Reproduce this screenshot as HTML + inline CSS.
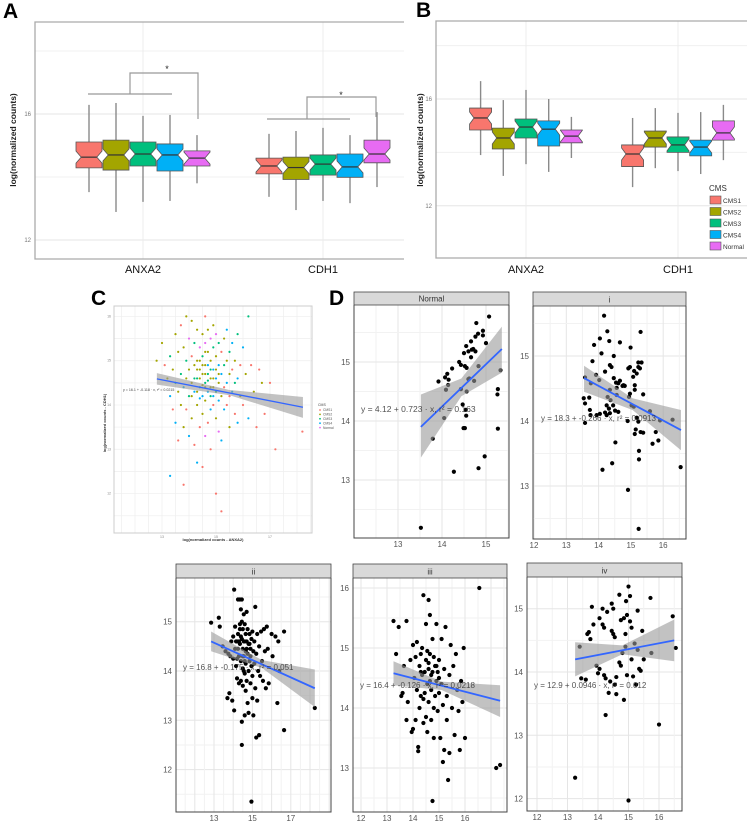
<!DOCTYPE html>
<html><head><meta charset="utf-8">
<style>
html,body{margin:0;padding:0;background:#fff;}
svg{display:block;font-family:"Liberation Sans",sans-serif;}
</style></head>
<body>
<svg id="fig" width="750" height="824" viewBox="0 0 750 824" xmlns="http://www.w3.org/2000/svg"></svg>
<script>
// ---------- Data: panel A (boxplots) ----------
const genes = ["ANXA2", "CDH1"];
const groups = ["CMS1", "CMS2", "CMS3", "CMS4", "Normal"];
const aQ3  = [15.11,15.17,15.11,15.05,14.83, 14.60,14.63,14.70,14.73,15.17];
const aQ1  = [14.29,14.22,14.35,14.19,14.35, 14.10,13.92,14.06,13.99,14.45];
const aMed = [14.63,14.70,14.73,14.70,14.60, 14.35,14.30,14.41,14.32,14.73];
const aHi  = [16.29,16.35,15.94,15.97,15.33, 15.37,15.46,15.56,15.33,16.06];
const aLo  = [13.52,12.89,13.21,13.24,13.80, 13.37,12.95,13.24,13.17,13.68];
const aTicks = [12, 16];
// ---------- Data: panel B ----------
const bQ3  = [15.66,14.91,15.25,15.18,14.84, 14.28,14.80,14.58,14.46,15.18];
const bQ1  = [14.84,14.13,14.54,14.24,14.36, 13.47,14.20,14.00,13.87,14.46];
const bMed = [15.29,14.54,14.95,14.87,14.61, 13.94,14.54,14.28,14.20,14.73];
const bHi  = [16.67,15.96,16.34,16.00,15.33, 15.29,15.66,15.48,15.51,15.78];
const bLo  = [13.90,13.12,13.56,13.27,13.79, 12.70,13.41,13.30,13.19,13.71];
const bTicks = [12, 16];
const groupColors = ["#F8766D","#A3A500","#00BF7D","#00B0F6","#E76BF3"];
// ---------- Data: panel C ----------
const cPoints = [[13.0,15.4,1],[13.1,14.9,0],[13.2,14.6,1],[13.3,15.1,2],[13.3,14.2,3],[13.4,14.8,1],[13.4,13.9,0],[13.5,15.6,1],[13.5,14.5,2],[13.5,13.6,3],[13.6,15.2,1],[13.6,14.3,1],[13.6,13.2,0],[13.7,15.8,0],[13.7,14.7,2],[13.7,14.0,1],[13.8,15.3,1],[13.8,14.4,3],[13.8,13.5,1],[13.9,16.0,1],[13.9,15.0,2],[13.9,14.6,1],[13.9,13.9,0],[14.0,15.5,4],[14.0,14.8,1],[14.0,14.2,2],[14.0,13.3,3],[14.1,15.9,1],[14.1,15.1,0],[14.1,14.5,1],[14.1,13.7,1],[14.2,15.4,2],[14.2,14.9,1],[14.2,14.3,3],[14.2,13.1,0],[14.3,15.7,1],[14.3,15.0,1],[14.3,14.6,2],[14.3,14.0,1],[14.3,12.7,3],[14.4,15.3,4],[14.4,14.8,1],[14.4,14.4,2],[14.4,13.5,0],[14.5,15.6,1],[14.5,15.1,2],[14.5,14.7,1],[14.5,14.2,3],[14.5,13.8,1],[14.5,12.6,0],[14.6,16.0,0],[14.6,15.4,4],[14.6,14.9,1],[14.6,14.5,2],[14.6,14.1,1],[14.6,13.3,4],[14.7,15.7,1],[14.7,15.2,1],[14.7,14.7,2],[14.7,14.3,3],[14.7,13.6,0],[14.8,15.5,4],[14.8,15.0,1],[14.8,14.6,1],[14.8,14.2,2],[14.8,13.9,3],[14.8,13.0,0],[14.9,15.8,1],[14.9,15.3,2],[14.9,14.8,3],[14.9,14.4,1],[14.9,14.0,0],[15.0,15.6,4],[15.0,15.1,1],[15.0,14.6,3],[15.0,14.3,2],[15.0,13.7,1],[15.0,12.0,0],[15.1,15.4,2],[15.1,14.9,3],[15.1,14.5,1],[15.1,14.1,3],[15.1,13.4,4],[15.2,15.2,0],[15.2,14.7,3],[15.2,14.2,1],[15.2,13.2,3],[15.2,11.6,0],[15.3,15.5,1],[15.3,14.9,2],[15.3,14.4,0],[15.3,13.9,3],[15.4,15.7,3],[15.4,15.0,1],[15.4,14.5,3],[15.4,14.0,0],[15.5,15.2,2],[15.5,14.7,1],[15.5,14.2,0],[15.5,13.5,1],[15.6,15.4,3],[15.6,14.8,0],[15.6,14.3,3],[15.7,15.0,1],[15.7,14.5,2],[15.7,13.8,0],[15.8,15.6,2],[15.8,14.6,3],[15.8,13.6,3],[15.9,14.9,0],[15.9,14.2,1],[16.0,15.3,3],[16.0,14.0,0],[16.1,14.7,1],[16.2,13.7,3],[16.3,14.9,0],[16.4,14.3,1],[16.5,13.5,0],[16.6,14.8,0],[16.7,14.5,1],[16.8,13.8,0],[17.0,14.5,0],[17.2,13.0,0],[18.2,13.4,0],[16.2,16.0,2],[12.8,15.0,1],[13.3,12.4,3],[13.8,12.2,0],[14.4,14.6,1],[14.6,14.4,1],[14.8,14.8,2],[14.5,14.9,1],[14.7,14.9,3],[14.3,14.3,1],[14.9,14.2,3],[14.6,14.7,1],[14.2,14.6,2],[15.0,14.8,1],[14.4,15.0,1],[14.8,14.4,1],[14.5,14.45,1],[14.7,14.55,2],[14.3,14.8,1],[14.9,14.6,1],[14.1,14.2,1],[15.1,14.7,1],[14.6,15.2,1],[14.4,14.15,3]];
const cLine = [12.81,14.59,18.22,13.95];
const cBandX = [12.81,15.5,18.22];
const cBandLo = [14.46,14.22,13.71];
const cBandHi = [14.72,14.34,14.18];
const cXTicks = [13,15,17];
const cYTicks = [12,13,14,15,16];
// ---------- Data: panel D facets ----------
const normalPoints = [[13.52,12.19],[13.79,13.70],[13.92,14.67],[14.07,14.74],[14.12,14.80],[14.23,14.89],[14.15,14.70],[14.14,14.61],[14.09,14.53],[14.05,14.05],[14.27,13.14],[14.39,15.0],[14.43,14.95],[14.5,15.15],[14.52,14.93],[14.55,15.27],[14.56,14.9],[14.6,15.18],[14.66,15.35],[14.68,15.21],[14.71,15.22],[14.66,15.08],[14.76,15.18],[14.76,15.43],[14.78,15.66],[14.82,15.48],[14.93,15.53],[14.93,15.45],[15.0,15.32],[15.07,15.77],[14.47,14.28],[14.54,14.19],[14.55,14.09],[14.49,13.88],[14.52,13.88],[14.56,14.50],[14.6,14.71],[14.43,14.54],[14.62,14.72],[14.73,14.68],[14.83,13.2],[14.97,13.4],[15.27,14.54],[15.26,14.45],[15.27,13.87],[15.33,14.86],[14.83,14.93]];
const iPoints = [[14.17,15.62],[14.27,15.38],[14.04,15.27],[13.86,15.17],[14.33,15.23],[14.09,15.04],[14.66,15.21],[14.47,15.0],[14.99,15.13],[15.30,15.37],[13.81,14.92],[14.35,14.86],[14.40,14.83],[14.20,14.76],[13.92,14.71],[13.58,14.67],[13.76,14.58],[14.02,14.63],[14.47,14.66],[14.54,14.59],[14.61,14.58],[14.66,14.62],[14.77,14.55],[14.81,14.54],[14.56,14.51],[14.35,14.48],[14.28,14.37],[14.37,14.32],[14.25,14.24],[14.45,14.24],[14.32,14.19],[14.20,14.13],[14.35,14.12],[14.51,14.16],[14.04,14.11],[13.73,14.17],[13.75,14.09],[13.54,14.35],[13.58,14.27],[13.71,14.36],[13.58,13.97],[13.94,14.09],[14.92,14.81],[14.97,14.83],[15.1,14.77],[15.18,14.73],[15.23,14.83],[15.28,14.81],[15.33,14.90],[15.23,14.90],[15.07,14.68],[15.12,14.55],[15.12,14.48],[14.97,14.42],[14.94,14.37],[15.02,14.24],[15.09,14.22],[15.18,14.05],[15.23,13.99],[14.90,14.0],[15.15,13.87],[15.12,13.80],[15.30,13.83],[15.38,13.82],[15.38,14.41],[15.59,14.15],[15.90,14.01],[15.67,13.65],[15.85,13.70],[15.77,13.83],[16.29,14.02],[16.54,13.29],[15.25,13.54],[15.25,13.41],[14.91,12.94],[15.24,12.34],[14.12,13.25],[14.42,13.35],[14.52,13.67],[14.74,14.54],[14.25,14.09],[14.56,14.4],[14.61,14.14]];
const iiPoints = [[12.85,14.98],[13.25,15.08],[13.3,14.9],[13.45,14.5],[13.6,14.4],[13.7,13.45],[13.8,13.55],[13.85,14.3],[13.9,14.6],[13.95,13.4],[14.0,14.7],[14.05,15.65],[14.05,13.2],[14.1,14.9],[14.1,14.45],[14.15,14.1],[14.2,14.6],[14.2,13.85],[14.25,15.45],[14.25,14.75],[14.3,14.3],[14.3,13.75],[14.35,15.45],[14.35,14.95],[14.35,14.55],[14.4,15.25],[14.4,14.2],[14.4,13.8],[14.45,15.45],[14.45,15.0],[14.45,14.65],[14.45,12.5],[14.45,12.97],[14.5,14.85],[14.5,14.45],[14.5,14.05],[14.5,13.7],[14.55,15.15],[14.55,14.6],[14.55,14.3],[14.6,14.95],[14.6,13.95],[14.6,13.1],[14.65,14.75],[14.65,14.4],[14.65,14.15],[14.7,15.2],[14.7,14.6],[14.7,13.8],[14.75,14.85],[14.75,14.35],[14.75,13.35],[14.8,14.55],[14.8,14.0],[14.8,13.15],[14.85,14.75],[14.85,14.2],[14.9,14.45],[14.9,13.75],[14.95,14.65],[14.95,14.1],[14.95,11.35],[15.0,14.8],[15.0,13.9],[15.0,13.45],[15.05,14.4],[15.05,13.1],[15.1,14.6],[15.1,14.15],[15.15,15.3],[15.15,13.65],[15.2,14.35],[15.2,12.65],[15.25,14.75],[15.25,13.4],[15.3,14.0],[15.35,14.5],[15.35,12.7],[15.4,13.9],[15.45,14.8],[15.5,14.2],[15.55,13.8],[15.6,14.85],[15.65,14.4],[15.7,13.65],[15.75,14.9],[15.8,14.45],[15.85,13.75],[16.0,14.75],[16.05,14.3],[16.2,14.7],[16.3,13.35],[16.35,14.6],[16.4,14.0],[16.65,14.8],[16.65,12.8],[18.25,13.25],[14.15,14.6],[14.3,14.6],[14.6,14.6],[14.2,14.25],[14.85,14.55],[14.35,14.85],[14.55,14.0],[14.65,13.6],[14.0,14.25],[13.75,14.35],[14.4,14.7],[14.5,14.3],[14.6,14.2],[14.7,14.45],[14.25,14.45],[14.9,14.3]];
const iiiPoints = [[13.25,15.45],[13.35,14.9],[13.45,15.35],[13.55,14.2],[13.6,14.25],[13.65,14.7],[13.75,15.45],[13.75,13.8],[13.8,14.1],[13.9,14.8],[13.95,13.6],[14.0,15.05],[14.0,13.65],[14.05,14.5],[14.1,14.85],[14.1,13.8],[14.15,15.1],[14.15,14.3],[14.2,13.35],[14.2,13.28],[14.25,14.7],[14.25,14.0],[14.3,14.9],[14.3,14.2],[14.35,15.0],[14.35,14.55],[14.4,15.88],[14.4,13.75],[14.45,14.6],[14.45,14.25],[14.5,15.4],[14.5,14.8],[14.5,13.85],[14.55,14.4],[14.55,13.6],[14.6,15.8],[14.6,14.65],[14.6,14.1],[14.65,15.55],[14.65,14.9],[14.7,14.3],[14.7,13.8],[14.75,15.15],[14.75,14.6],[14.75,12.45],[14.8,14.85],[14.8,14.0],[14.8,13.5],[14.85,14.7],[14.85,14.2],[14.9,15.4],[14.9,14.45],[14.95,14.6],[14.95,13.95],[15.0,14.8],[15.0,14.25],[15.05,13.5],[15.1,15.15],[15.1,14.4],[15.15,14.05],[15.15,13.1],[15.2,14.65],[15.2,13.3],[15.25,15.35],[15.3,14.2],[15.3,13.8],[15.35,12.8],[15.4,14.55],[15.4,13.25],[15.45,15.05],[15.5,14.0],[15.55,14.7],[15.6,13.55],[15.65,14.9],[15.7,14.3],[15.75,13.95],[15.8,13.3],[15.85,14.45],[15.9,14.1],[15.95,15.0],[16.0,13.5],[16.55,16.0],[14.55,14.95],[14.65,14.45],[14.3,14.6],[14.9,14.7],[14.6,14.75],[14.7,14.55],[14.4,14.15],[15.0,14.5],[17.2,13.0],[17.35,13.05]];
const ivPoints = [[13.25,12.33],[13.4,14.4],[13.45,13.9],[13.6,13.88],[13.65,14.6],[13.7,14.63],[13.75,14.52],[13.8,15.03],[13.85,14.75],[13.95,14.1],[14.0,13.98],[14.05,14.85],[14.05,14.05],[14.15,15.0],[14.15,14.75],[14.2,14.7],[14.2,13.95],[14.25,13.32],[14.25,13.9],[14.3,14.95],[14.35,13.67],[14.4,13.85],[14.45,15.08],[14.45,14.65],[14.5,14.6],[14.5,15.0],[14.55,14.55],[14.55,13.8],[14.6,13.92],[14.6,13.65],[14.7,15.22],[14.75,14.82],[14.75,14.1],[14.8,14.3],[14.85,14.85],[14.85,13.56],[14.9,14.4],[14.9,14.6],[14.92,15.12],[14.95,14.9],[15.0,15.35],[15.0,11.97],[15.05,15.2],[15.05,14.8],[15.1,14.7],[15.1,14.2],[15.15,13.93],[15.2,14.45],[15.3,14.97],[15.3,14.35],[15.35,14.05],[15.4,14.02],[15.45,14.65],[15.5,14.2],[15.72,15.17],[15.75,14.3],[16.0,13.17],[16.45,14.88],[16.55,14.38],[15.25,13.8],[14.95,13.95],[14.7,14.15]];
const normalLine = [13.52,13.90,15.36,15.22];
const normalBandX = [13.52,14.44,15.36], normalBandLo = [13.38,14.42,14.82], normalBandHi = [14.45,14.72,15.60];
const iLine = [13.55,14.66,16.55,13.86];
const iBandX = [13.55,15.05,16.55], iBandLo = [14.45,14.17,13.55], iBandHi = [14.85,14.35,14.17];
const iiLine = [12.85,14.60,18.25,13.65];
const iiBandX = [12.85,15.5,18.25], iiBandLo = [14.40,14.06,13.27], iiBandHi = [14.80,14.22,14.03];
const iiiLine = [13.25,14.58,17.35,14.12];
const iiiBandX = [13.25,15.1,17.35], iiiBandLo = [14.38,14.30,13.85], iiiBandHi = [14.78,14.44,14.38];
const ivLine = [13.25,14.20,16.50,14.50];
const ivBandX = [13.25,14.8,16.5], ivBandLo = [13.93,14.28,14.17], ivBandHi = [14.47,14.42,14.83];

// ---------- drawing helpers ----------
const NS = "http://www.w3.org/2000/svg";
const svg = document.getElementById("fig");
function mk(tag, attrs, parent) {
  const e = document.createElementNS(NS, tag);
  for (const k in attrs) e.setAttribute(k, attrs[k]);
  (parent || svg).appendChild(e);
  return e;
}
function txt(str, attrs, parent) {
  const t = mk("text", attrs, parent);
  t.textContent = str;
  return t;
}
function panelLabel(ch, x, y) {
  const t = txt(ch, {x: x, y: y, "font-size": 21, "font-weight": "bold", fill: "#000"});
  
  
}

// ---------- Box plot panels ----------
function boxPanel(id, cfg, q3, q1, med, hi, lo, ticks) {
  const g = mk("g", {});
  
  
  const ys = v => cfg.y16 - (v - 16) * cfg.ppu;
  // gridlines
  for (let v = 10; v <= 20; v += 2) {
    const y = ys(v);
    if (y < cfg.T || y > cfg.B) continue;
    const gl = mk("line", {x1: cfg.L, x2: cfg.R, y1: y, y2: y, stroke: ticks.includes(v) ? "#e6e6e6" : "#f0f0f0", "stroke-width": 1}, g);
    
    
  }
  cfg.cats.forEach(cx => {
    const gl = mk("line", {x1: cx, x2: cx, y1: cfg.T, y2: cfg.B, stroke: "#ececec", "stroke-width": 1}, g);
    
    
  });
  const fr = mk("path", {d: `M${cfg.R},${cfg.T} H${cfg.L} V${cfg.B} H${cfg.R}`, fill: "none", stroke: "#aaa", "stroke-width": 1.3}, g);
  
  
  ticks.forEach(v => {
    const t = txt(String(v), {x: cfg.L - 4, y: ys(v) + 2, "font-size": 6, fill: "#777", "text-anchor": "end"}, g);
    
    
  });
  const yt = txt("log(normalized counts)", {x: 0, y: 0, "font-size": 8.5, "font-weight": "bold", fill: "#222", "text-anchor": "middle", transform: `translate(${cfg.ytX},${cfg.ytY}) rotate(-90)`}, g);
  
  
  genes.forEach((gn, gi) => {
    const t = txt(gn, {x: cfg.cats[gi], y: 273, "font-size": 11, fill: "#111", "text-anchor": "middle"}, g);
    
    
  });
  for (let i = 0; i < 10; i++) {
    const gi = Math.floor(i / 5), k = i % 5;
    const cx = cfg.cats[gi] + (k - 2) * cfg.step;
    const w = cfg.bw / 2;
    const wl = mk("line", {x1: cx, x2: cx, y1: ys(hi[i]), y2: ys(lo[i]), stroke: "#8a8a8a", "stroke-width": 1.4}, g);
    
    
    const yT = ys(q3[i]), yB = ys(q1[i]), yM = ys(med[i]);
    const nh = Math.min(6, (yB - yT) / 2 - 0.5), ins = cfg.bw * 0.2;
    const d = `M${cx-w},${yT} H${cx+w} V${yM-nh} L${cx+w-ins},${yM} L${cx+w},${yM+nh} V${yB} H${cx-w} V${yM+nh} L${cx-w+ins},${yM} L${cx-w},${yM-nh} Z`;
    const bx = mk("path", {d: d, fill: groupColors[k], stroke: "#555", "stroke-width": 0.8}, g);
    
    
    const ml = mk("line", {x1: cx - w + ins, x2: cx + w - ins, y1: yM, y2: yM, stroke: "#333", "stroke-width": 1.2}, g);
    
    
  }
  return g;
}
boxPanel("a", {L: 35, R: 404, T: 22, B: 259, y16: 114, ppu: 31.5, cats: [143, 323], step: 27, bw: 26, ytX: 16, ytY: 140}, aQ3, aQ1, aMed, aHi, aLo, aTicks);
boxPanel("b", {L: 436, R: 747, T: 21, B: 258, y16: 99, ppu: 26.7, cats: [526, 678], step: 22.7, bw: 22, ytX: 423, ytY: 140}, bQ3, bQ1, bMed, bHi, bLo, bTicks);

// significance brackets (panel A)
const brk = mk("g", {fill: "none", stroke: "#999", "stroke-width": 1.2});


mk("path", {d: "M88,94 H172 M130,94 V73 H198 V119"}, brk);
mk("path", {d: "M267,119 H350 M307,119 V97 H376 V117"}, brk);
const s1 = txt("*", {x: 167, y: 72, "font-size": 9, fill: "#222", "text-anchor": "middle"});


const s2 = txt("*", {x: 341, y: 98, "font-size": 9, fill: "#222", "text-anchor": "middle"});



// legend panel B
const lg = mk("g", {});


const lgt = txt("CMS", {x: 709, y: 191, "font-size": 8, fill: "#333"}, lg);


groups.forEach((gname, k) => {
  const y = 200 + k * 11.5;
  const r = mk("rect", {x: 710, y: y - 4, width: 11, height: 8, fill: groupColors[k], stroke: "#555", "stroke-width": 0.6}, lg);
  
  
  const t = txt(gname, {x: 723, y: y + 3, "font-size": 6.5, fill: "#333"}, lg);
  
  
});

panelLabel("A", 3, 18);
panelLabel("B", 416, 17);
panelLabel("C", 91, 305);
panelLabel("D", 329, 305);

// ---------- Panel C scatter ----------
(function () {
  const L = 114, R = 312, T = 306, B = 533;
  const xs = v => 162 + (v - 13) * 27, ys = v => 405 - (v - 14) * 44.3;
  const g = mk("g", {});
  
  
  for (let v = 11; v <= 19; v += 0.5) {
    const x = xs(v); if (x < L || x > R) continue;
    const gl = mk("line", {x1: x, x2: x, y1: T, y2: B, stroke: "#f0f0f0", "stroke-width": 0.8}, g);
    
    
  }
  for (let v = 11; v <= 16.5; v += 0.5) {
    const y = ys(v); if (y < T || y > B) continue;
    const gl = mk("line", {x1: L, x2: R, y1: y, y2: y, stroke: "#f0f0f0", "stroke-width": 0.8}, g);
    
    
  }
  const fr = mk("rect", {x: L, y: T, width: R - L, height: B - T, fill: "none", stroke: "#ccc", "stroke-width": 1}, g);
  
  
  cXTicks.forEach(v => {
    const t = txt(String(v), {x: xs(v), y: B + 5, "font-size": 3.5, fill: "#888", "text-anchor": "middle"}, g);
    
    
  });
  cYTicks.forEach(v => {
    const t = txt(String(v), {x: L - 3, y: ys(v) + 1, "font-size": 3.5, fill: "#888", "text-anchor": "end"}, g);
    
    
  });
  const xt = txt("log(normalized counts - ANXA2)", {x: 213, y: 541, "font-size": 4, "font-weight": "bold", fill: "#333", "text-anchor": "middle"}, g);
  
  
  const yt = txt("log(normalized counts - CDH1)", {x: 0, y: 0, "font-size": 4, "font-weight": "bold", fill: "#333", "text-anchor": "middle", transform: "translate(106,423) rotate(-90)"}, g);
  
  
  cPoints.forEach(p => {
    const c = mk("circle", {cx: xs(p[0]), cy: ys(p[1]), r: 1.1, fill: groupColors[p[2]]}, g);
    
    
  });
  let d = "M" + cBandX.map((x, i) => xs(x) + "," + ys(cBandHi[i])).join(" L");
  d += " L" + cBandX.slice().reverse().map((x, i) => xs(x) + "," + ys(cBandLo[cBandX.length - 1 - i])).join(" L") + " Z";
  const band = mk("path", {d: d, fill: "#999", "fill-opacity": 0.6}, g);
  
  
  const ln = mk("line", {x1: xs(cLine[0]), y1: ys(cLine[1]), x2: xs(cLine[2]), y2: ys(cLine[3]), stroke: "#3366FF", "stroke-width": 1.3}, g);
  
  
  const eq = txt("y = 16.1 + -0.118 · x, r² = 0.0215", {x: 123, y: 391, "font-size": 3.6, fill: "#444"}, g);
  
  
  const lt = txt("CMS", {x: 318, y: 406, "font-size": 3.5, fill: "#444"}, g);
  
  
  groups.forEach((gname, k) => {
    const y = 410 + k * 4.4;
    const dot = mk("circle", {cx: 320, cy: y, r: 0.9, fill: groupColors[k]}, g);
    
    
    const t = txt(gname, {x: 323, y: y + 1.2, "font-size": 3.3, fill: "#555"}, g);
    
    
  });
})();

// ---------- Panel D facets ----------
function facet(f) {
  const g = mk("g", {});
  
  
  const xs = v => f.xpx + (v - f.x0) * f.xppu, ys = v => f.ypx - (v - f.y0) * f.yppu;
  const clipId = "clip-" + f.id;
  const cp = mk("clipPath", {id: clipId}, g);
  mk("rect", {x: f.L, y: f.H, width: f.R - f.L, height: f.B - f.H}, cp);
  for (let v = 10; v <= 20; v += 0.5) {
    const x = xs(v);
    if (x > f.L && x < f.R) {
      const gl = mk("line", {x1: x, x2: x, y1: f.H, y2: f.B, stroke: v % 1 === 0 ? "#e5e5e5" : "#f2f2f2", "stroke-width": 1}, g);
      
      
    }
    const y = ys(v);
    if (y > f.H && y < f.B) {
      const gl = mk("line", {x1: f.L, x2: f.R, y1: y, y2: y, stroke: v % 1 === 0 ? "#e5e5e5" : "#f2f2f2", "stroke-width": 1}, g);
      
      
    }
  }
  const inner = mk("g", {"clip-path": "url(#" + clipId + ")"}, g);
  f.pts.forEach(p => {
    const c = mk("circle", {cx: xs(p[0]), cy: ys(p[1]), r: 2.1, fill: "#000"}, inner);
    
    
  });
  let d = "M" + f.bx.map((x, i) => xs(x) + "," + ys(f.bhi[i])).join(" L");
  d += " L" + f.bx.slice().reverse().map((x, i) => xs(x) + "," + ys(f.blo[f.bx.length - 1 - i])).join(" L") + " Z";
  const band = mk("path", {d: d, fill: "#999", "fill-opacity": 0.6}, inner);
  
  
  const ln = mk("line", {x1: xs(f.line[0]), y1: ys(f.line[1]), x2: xs(f.line[2]), y2: ys(f.line[3]), stroke: "#3366FF", "stroke-width": 1.8}, inner);
  
  
  const eq = txt(f.eq, {x: f.ex, y: f.ey, "font-size": f.efs, fill: "#333", "fill-opacity": 0.85}, g);
  
  
  const hd = mk("rect", {x: f.L, y: f.T, width: f.R - f.L, height: f.H - f.T, fill: "#d9d9d9", stroke: "#444", "stroke-width": 0.8}, g);
  
  
  const ht = txt(f.title, {x: (f.L + f.R) / 2, y: f.H - 3.5, "font-size": 8, fill: "#333", "text-anchor": "middle"}, g);
  
  
  const fr = mk("path", {d: `M${f.L},${f.H} V${f.B} H${f.R} V${f.H}`, fill: "none", stroke: "#444", "stroke-width": 1}, g);
  
  
  f.xt.forEach(v => {
    const t = txt(String(v), {x: xs(v), y: f.B + 9, "font-size": 8, fill: "#555", "text-anchor": "middle"}, g);
    
    
  });
  f.yt.forEach(v => {
    const t = txt(String(v), {x: f.L - 4, y: ys(v) + 3, "font-size": 8, fill: "#555", "text-anchor": "end"}, g);
    
    
  });
}
facet({id: "normal", title: "Normal", L: 354, R: 509, T: 292, H: 305, B: 538, x0: 13, xpx: 398, xppu: 44, y0: 14, ypx: 421, yppu: 59, xt: [13,14,15], yt: [13,14,15], pts: normalPoints, line: normalLine, bx: normalBandX, blo: normalBandLo, bhi: normalBandHi, eq: "y = 4.12 + 0.723 · x, r² = 0.163", ex: 361, ey: 412, efs: 8.5});
facet({id: "i", title: "i", L: 533, R: 686, T: 292, H: 306, B: 539, x0: 12, xpx: 534, xppu: 32.3, y0: 14, ypx: 421, yppu: 65, xt: [12,13,14,15,16], yt: [13,14,15], pts: iPoints, line: iLine, bx: iBandX, blo: iBandLo, bhi: iBandHi, eq: "y = 18.3 + -0.266 · x, r² = 0.0913", ex: 541, ey: 421, efs: 8});
facet({id: "ii", title: "ii", L: 176, R: 331, T: 564, H: 578, B: 812, x0: 13, xpx: 214, xppu: 19.2, y0: 14, ypx: 671, yppu: 49.3, xt: [13,15,17], yt: [12,13,14,15], pts: iiPoints, line: iiLine, bx: iiBandX, blo: iiBandLo, bhi: iiBandHi, eq: "y = 16.8 + -0.175 · x, r² = 0.051", ex: 183, ey: 670, efs: 8});
facet({id: "iii", title: "iii", L: 353, R: 507, T: 564, H: 578, B: 812, x0: 12, xpx: 361, xppu: 26, y0: 14, ypx: 708, yppu: 60, xt: [12,13,14,15,16], yt: [13,14,15,16], pts: iiiPoints, line: iiiLine, bx: iiiBandX, blo: iiiBandLo, bhi: iiiBandHi, eq: "y = 16.4 + -0.126 · x, r² = 0.0218", ex: 360, ey: 688, efs: 8});
facet({id: "iv", title: "iv", L: 527, R: 682, T: 563, H: 577, B: 811, x0: 12, xpx: 537, xppu: 30.5, y0: 14, ypx: 672, yppu: 63.3, xt: [12,13,14,15,16], yt: [12,13,14,15], pts: ivPoints, line: ivLine, bx: ivBandX, blo: ivBandLo, bhi: ivBandHi, eq: "y = 12.9 + 0.0946 · x, r² = 0.012", ex: 534, ey: 688, efs: 8});
</script>
</body></html>
